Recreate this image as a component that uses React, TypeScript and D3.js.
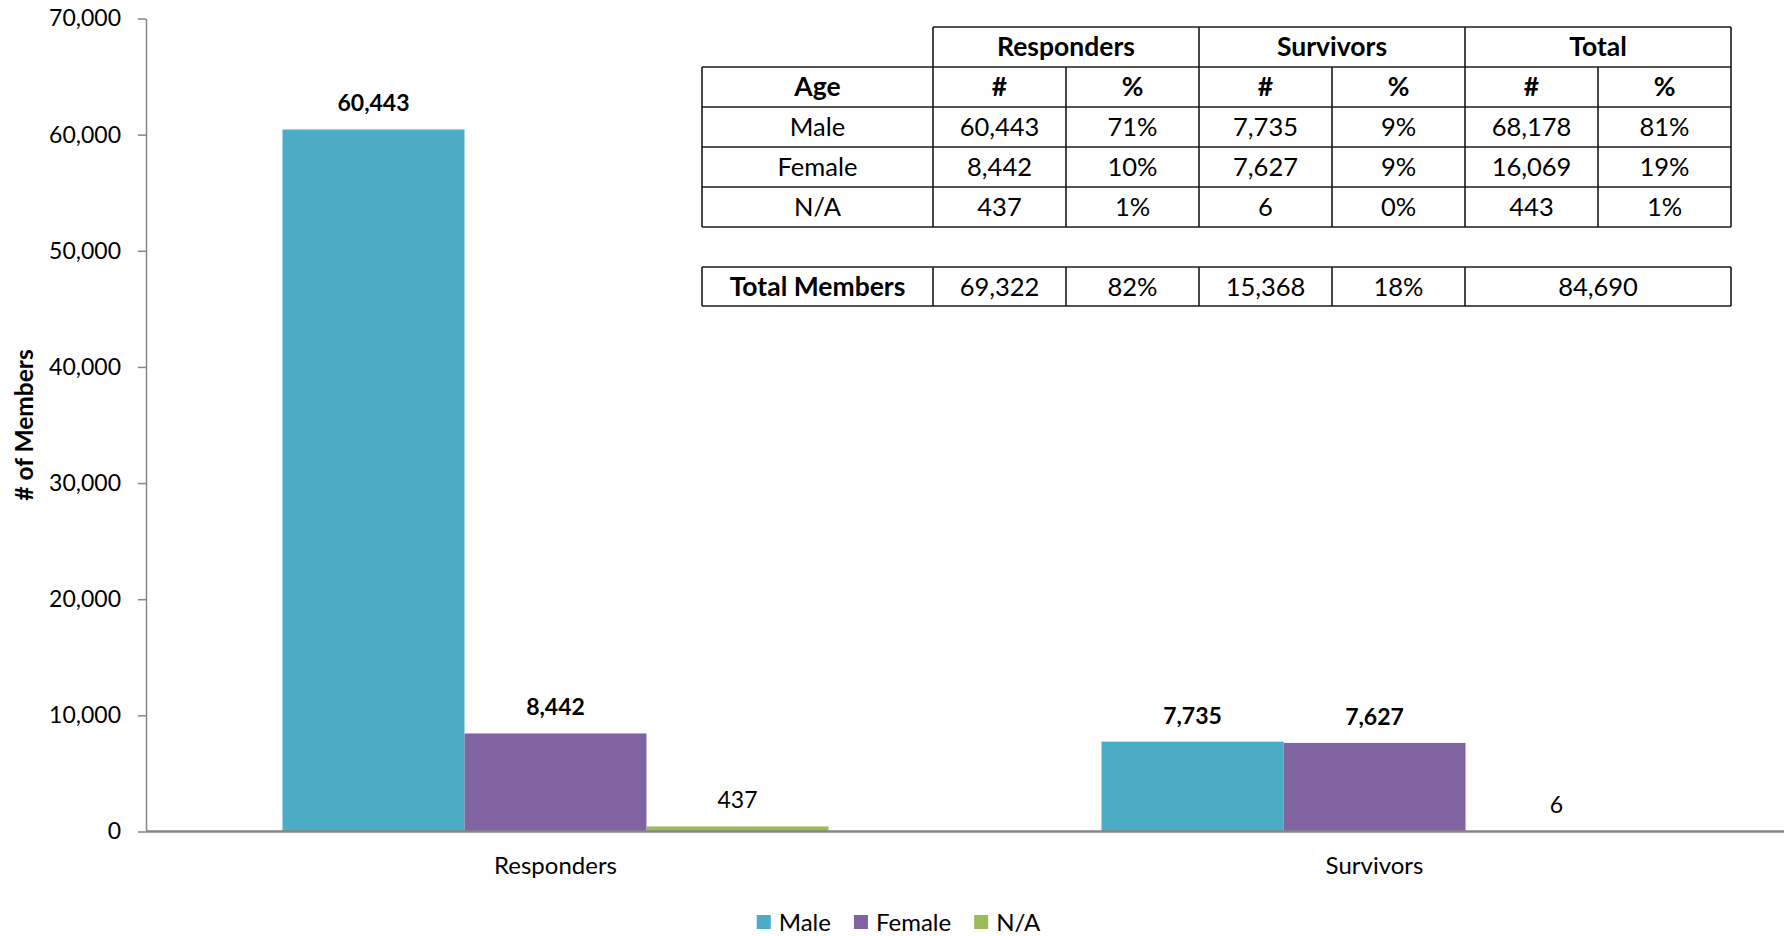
import React, { useEffect, useRef } from 'react';
import * as d3 from 'd3';

// chart data
const categories = ['Responders', 'Survivors'];
const seriesNames = ['Male', 'Female', 'N/A'];
const seriesColors = ['#4BACC6', '#8064A2', '#9BBB59'];
const maleValues = [60443, 7735];
const femaleValues = [8442, 7627];
const naValues = [437, 6];
const yTicks = [0, 10000, 20000, 30000, 40000, 50000, 60000, 70000];

// table data
const tableGroups = ['Responders', 'Survivors', 'Total'];
const tableRowLabels = ['Male', 'Female', 'N/A'];
const respondersCount = ['60,443', '8,442', '437'];
const respondersPct = ['71%', '10%', '1%'];
const survivorsCount = ['7,735', '7,627', '6'];
const survivorsPct = ['9%', '9%', '0%'];
const totalCount = ['68,178', '16,069', '443'];
const totalPct = ['81%', '19%', '1%'];
const totalMembers = ['69,322', '82%', '15,368', '18%', '84,690'];

const FONT = 'Lato, "Open Sans", sans-serif';

const App: React.FC = () => {
  const svgRef = useRef<SVGSVGElement>(null);

  useEffect(() => {
    if (!svgRef.current) return;
    const svg = d3.select(svgRef.current);
    svg.selectAll('*').remove();

    const width = 1787;
    const height = 936;
    const margin = { top: 18.5, right: 3, bottom: 104.5, left: 146 };
    const plotBottom = height - margin.bottom;

    const x = d3.scaleBand<string>()
      .domain(categories)
      .range([margin.left, width - margin.right])
      .paddingInner(1 / 3)
      .paddingOuter(1 / 6);

    const xs = d3.scaleBand<string>()
      .domain(seriesNames)
      .range([0, x.bandwidth()]);

    const y = d3.scaleLinear()
      .domain([0, 70000])
      .range([plotBottom, margin.top]);

    const seriesValues = [maleValues, femaleValues, naValues];

    // y axis
    const yAxis = svg.append('g')
      .attr('transform', `translate(${margin.left},0)`)
      .call(d3.axisLeft(y).tickValues(yTicks).tickFormat(d3.format(',')).tickSize(8).tickSizeOuter(0).tickPadding(17));
    yAxis.select('.domain').attr('stroke', '#868686').attr('stroke-width', 1.5);
    yAxis.selectAll('.tick line').attr('stroke', '#868686').attr('stroke-width', 1.5);
    yAxis.selectAll('.tick text')
      .attr('font-family', FONT)
      .attr('font-size', 23)
      .attr('fill', '#000');

    svg.append('text')
      .attr('transform', `translate(33,${(margin.top + plotBottom) / 2}) rotate(-90)`)
      .attr('text-anchor', 'middle')
      .attr('font-family', FONT)
      .attr('font-size', 24.5)
      .attr('font-weight', 'bold')
      .text('# of Members');

    // bars
    categories.forEach((cat, ci) => {
      const g = svg.append('g').attr('transform', `translate(${x(cat)},0)`);
      seriesNames.forEach((s, si) => {
        const v = seriesValues[si][ci];
        g.append('rect')
          .attr('x', xs(s) || 0)
          .attr('y', y(v))
          .attr('width', xs.bandwidth())
          .attr('height', plotBottom - y(v))
          .attr('fill', seriesColors[si]);
        g.append('text')
          .attr('x', (xs(s) || 0) + xs.bandwidth() / 2)
          .attr('y', y(v) - 18)
          .attr('text-anchor', 'middle')
          .attr('font-family', FONT)
          .attr('font-size', 23)
          .attr('font-weight', si < 2 ? 'bold' : 'normal')
          .text(d3.format(',')(v));
      });
    });

    // x axis line
    svg.append('line')
      .attr('x1', margin.left)
      .attr('x2', width - margin.right)
      .attr('y1', plotBottom)
      .attr('y2', plotBottom)
      .attr('stroke', '#868686')
      .attr('stroke-width', 2.5);

    svg.selectAll('.xlabel')
      .data(categories)
      .enter()
      .append('text')
      .attr('x', d => (x(d) || 0) + x.bandwidth() / 2)
      .attr('y', 874)
      .attr('text-anchor', 'middle')
      .attr('font-family', FONT)
      .attr('font-size', 24)
      .text(d => d);

    // legend
    const legend = svg.append('g');
    let lx = 0;
    seriesNames.forEach((s, si) => {
      legend.append('rect')
        .attr('x', lx)
        .attr('y', 915)
        .attr('width', 14)
        .attr('height', 14)
        .attr('fill', seriesColors[si]);
      const t = legend.append('text')
        .attr('x', lx + 22)
        .attr('y', 931)
        .attr('font-family', FONT)
        .attr('font-size', 24)
        .text(s);
      const w = (t.node() as SVGTextElement).getComputedTextLength();
      lx += 22 + w + 23;
    });
    const legendW = lx - 23;
    legend.attr('transform', `translate(${width / 2 - legendW / 2 + 5},0)`);

    // table
    const colX = [702, 933, 1066, 1199, 1332, 1465, 1598, 1731];
    const rowY = [27, 67, 107, 147, 187, 227];
    const tot = [267, 306];
    const tg = svg.append('g')
      .attr('font-family', FONT)
      .attr('text-anchor', 'middle');
    const line = (x1: number, y1: number, x2: number, y2: number) =>
      tg.append('line').attr('x1', x1).attr('y1', y1).attr('x2', x2).attr('y2', y2)
        .attr('stroke', '#1a1a1a').attr('stroke-width', 1.6);
    const cell = (txt: string, x1: number, x2: number, y1: number, y2: number, bold = false) =>
      tg.append('text')
        .attr('x', (x1 + x2) / 2)
        .attr('y', (y1 + y2) / 2 + 9)
        .attr('font-size', bold ? 26.5 : 25.5)
        .attr('font-weight', bold ? 'bold' : 'normal')
        .text(txt);

    // horizontal lines
    line(colX[1], rowY[0], colX[7], rowY[0]);
    for (let r = 1; r < rowY.length; r++) line(colX[0], rowY[r], colX[7], rowY[r]);
    // vertical lines
    line(colX[0], rowY[1], colX[0], rowY[5]);
    [1, 3, 5, 7].forEach(c => line(colX[c], rowY[0], colX[c], rowY[5]));
    [2, 4, 6].forEach(c => line(colX[c], rowY[1], colX[c], rowY[5]));

    tableGroups.forEach((gname, gi) => cell(gname, colX[1 + gi * 2], colX[3 + gi * 2], rowY[0], rowY[1], true));
    cell('Age', colX[0], colX[1], rowY[1], rowY[2], true);
    for (let c = 1; c < 7; c++) cell(c % 2 === 1 ? '#' : '%', colX[c], colX[c + 1], rowY[1], rowY[2], true);
    const cols = [respondersCount, respondersPct, survivorsCount, survivorsPct, totalCount, totalPct];
    tableRowLabels.forEach((lab, r) => {
      cell(lab, colX[0], colX[1], rowY[2 + r], rowY[3 + r]);
      cols.forEach((col, c) => cell(col[r], colX[c + 1], colX[c + 2], rowY[2 + r], rowY[3 + r]));
    });

    // total members row
    line(colX[0], tot[0], colX[7], tot[0]);
    line(colX[0], tot[1], colX[7], tot[1]);
    [0, 1, 2, 3, 4, 5, 7].forEach(c => line(colX[c], tot[0], colX[c], tot[1]));
    cell('Total Members', colX[0], colX[1], tot[0], tot[1], true);
    totalMembers.forEach((v, i) => {
      const x1 = colX[i + 1];
      const x2 = i === 4 ? colX[7] : colX[i + 2];
      cell(v, x1, x2, tot[0], tot[1]);
    });
  }, []);

  return (
    <div style={{ position: 'fixed', left: 0, top: 0, background: '#fff' }}>
      <svg ref={svgRef} width={1787} height={936} viewBox="0 0 1787 936" style={{ display: 'block' }} />
    </div>
  );
};

export default App;
